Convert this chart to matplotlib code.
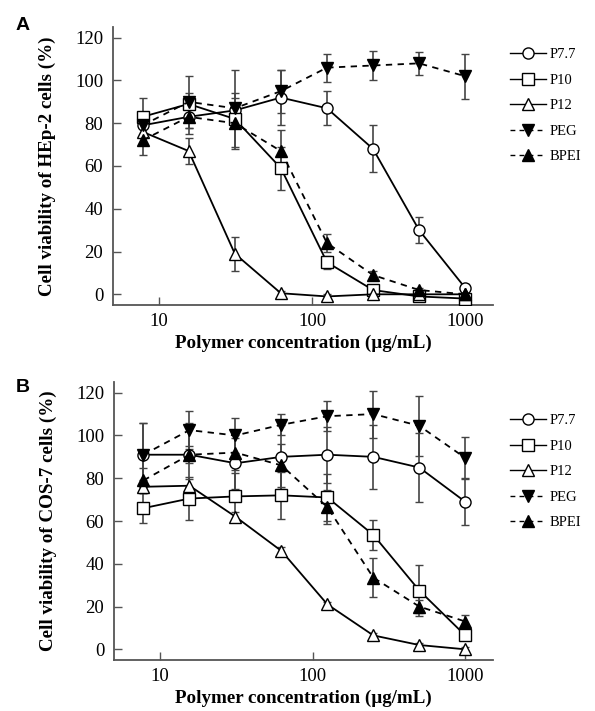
import matplotlib
matplotlib.use("Agg")
import matplotlib.pyplot as plt
from matplotlib.lines import Line2D

conc = [7.8, 15.6, 31.25, 62.5, 125, 250, 500, 1000]
series_names = ["P7.7", "P10", "P12", "PEG", "BPEI"]

# Panel A (HEp-2)
a_p77 = [79, 83, 86, 92, 87, 68, 30, 3]
a_p10 = [83, 89, 82, 59, 15, 2, -1, -2]
a_p12 = [76, 67, 19, 0.5, -1, 0, 0, 0]
a_peg = [79, 90, 87, 95, 106, 107, 108, 102]
a_bpei = [72, 83, 80, 67, 24, 9, 2, 0]
a_p77_err = [4, 5, 8, 13, 8, 11, 6, 2]
a_p10_err = [9, 5, 4, 10, 3, 2, 1, 1]
a_p12_err = [3, 6, 8, 1, 1, 1, 1, 1]
a_peg_err = [5, 12, 18, 10, 6.5, 7, 5.5, 10.5]
a_bpei_err = [7, 8, 12, 10, 4, 2, 1, 1]

# Panel B (COS-7)
b_p77 = [91, 91, 87, 90, 91, 90, 85, 69]
b_p10 = [66, 70.5, 71.5, 72, 71, 53.5, 27.5, 6.5]
b_p12 = [76, 76.5, 62, 46, 21, 6.5, 2, 0]
b_peg = [91, 102.5, 100, 105, 109, 110, 104.5, 89.5]
b_bpei = [79, 91, 92, 86, 66.5, 33.5, 20, 13]
b_p77_err = [15, 15, 12, 15, 13, 15, 16, 11]
b_p10_err = [7, 10, 11, 11, 11, 7, 12, 2]
b_p12_err = [3, 3, 2, 2, 1, 1, 1, 1]
b_peg_err = [15, 9, 8, 5, 7, 11, 14, 10]
b_bpei_err = [6, 4, 8, 10, 8, 9, 3, 3]

yticks = [0, 20, 40, 60, 80, 100, 120]
xticks = [10, 100, 1000]
xticklabels = ["10", "100", "1000"]

styles = {
    "P7.7": dict(marker="o", mfc="white", ls="-"),
    "P10": dict(marker="s", mfc="white", ls="-"),
    "P12": dict(marker="^", mfc="white", ls="-"),
    "PEG": dict(marker="v", mfc="black", ls=(0, (3.5, 3))),
    "BPEI": dict(marker="^", mfc="black", ls=(0, (3.5, 3))),
}

serif = "Liberation Serif"
fig = plt.figure(figsize=(5.95, 7.11), dpi=100)

def draw(ax_rect, data, errs, ylabel, letter, letter_y, legend_y):
    ax = fig.add_axes(ax_rect)
    for name, vals, err in zip(series_names, data, errs):
        st = styles[name]
        ax.errorbar(conc, vals, yerr=err, fmt="none", ecolor="#444444",
                    elinewidth=1.2, capsize=3, capthick=1.0, zorder=2)
        ax.plot(conc, vals, color="black", lw=1.3, ls=st["ls"], marker=st["marker"],
                markersize=8, markerfacecolor=st["mfc"], markeredgecolor="black",
                markeredgewidth=1.0, zorder=3)
    ax.set_xscale("log")
    ax.set_xlim(5.0, 1520)
    ax.set_ylim(-5, 125)
    ax.set_yticks(yticks)
    ax.set_xticks(xticks)
    ax.set_xticklabels(xticklabels)
    ax.minorticks_off()
    ax.tick_params(direction="in", length=6, width=1.0, color="#555555", labelsize=13.5)
    for lab in ax.get_xticklabels() + ax.get_yticklabels():
        lab.set_fontfamily(serif)
    ax.tick_params(axis="x", pad=6)
    ax.tick_params(axis="y", pad=7)
    for s in ["top", "right"]:
        ax.spines[s].set_visible(False)
    for s in ["left", "bottom"]:
        ax.spines[s].set_color("#555555")
        ax.spines[s].set_linewidth(1.3)
    ax.set_ylabel(ylabel, fontfamily=serif, fontweight="bold", fontsize=13.7, labelpad=14)
    ax.set_xlabel("Polymer concentration (\u00b5g/mL)", fontfamily=serif,
                  fontweight="bold", fontsize=13.7, labelpad=3)
    fig.text(16 / 595, 1 - letter_y / 711, letter, fontfamily="Liberation Sans",
             fontweight="bold", fontsize=14, ha="left", va="center")
    handles = []
    for name in series_names:
        st = styles[name]
        handles.append(Line2D([], [], color="black", lw=1.0, ls=st["ls"],
                              marker=st["marker"], markersize=8,
                              markerfacecolor=st["mfc"], markeredgecolor="black"))
    fig.legend(handles, series_names, loc="upper left",
               bbox_to_anchor=(504 / 595, 1 - legend_y / 711), frameon=False,
               prop={"family": serif, "size": 10.5}, handlelength=2.5,
               handletextpad=0.2, labelspacing=0.85, borderaxespad=0)
    return ax

draw([113 / 595, 1 - 305 / 711, 380 / 595, 278 / 711],
     [a_p77, a_p10, a_p12, a_peg, a_bpei],
     [a_p77_err, a_p10_err, a_p12_err, a_peg_err, a_bpei_err],
     "Cell viability of HEp-2 cells (%)", "A", 25, 42)
draw([114 / 595, 1 - 660 / 711, 379 / 595, 278 / 711],
     [b_p77, b_p10, b_p12, b_peg, b_bpei],
     [b_p77_err, b_p10_err, b_p12_err, b_peg_err, b_bpei_err],
     "Cell viability of COS-7 cells (%)", "B", 387, 408)

fig.savefig("out.png", dpi=100)
